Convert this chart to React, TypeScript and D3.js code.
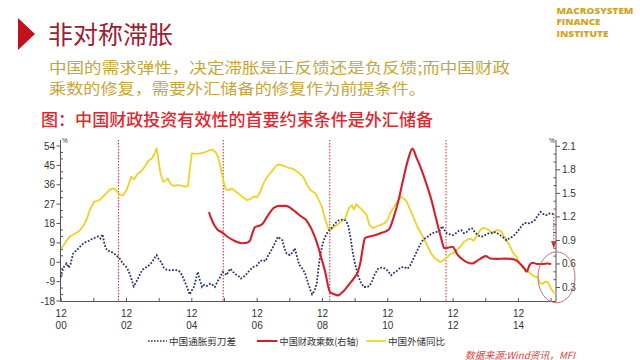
import React from 'react';
import * as d3 from 'd3';

// ---- data (decimal years) ----
const reserveT = [2000.92,2001.0,2001.08,2001.17,2001.3,2001.42,2001.5,2001.6,2001.7,2001.8,2001.92,2002.02,2002.1,2002.2,2002.3,2002.42,2002.54,2002.62,2002.7,2002.8,2002.92,2003.0,2003.06,2003.15,2003.25,2003.35,2003.48,2003.58,2003.7,2003.78,2003.84,2003.9,2003.96,2004.04,2004.12,2004.18,2004.26,2004.35,2004.48,2004.6,2004.72,2004.8,2004.87,2004.92,2005.04,2005.17,2005.3,2005.42,2005.55,2005.65,2005.72,2005.8,2005.88,2005.95,2006.05,2006.15,2006.25,2006.38,2006.5,2006.62,2006.72,2006.82,2006.92,2007.02,2007.12,2007.22,2007.35,2007.48,2007.58,2007.7,2007.85,2008.0,2008.1,2008.2,2008.33,2008.45,2008.55,2008.7,2008.8,2008.9,2009.0,2009.1,2009.15,2009.28,2009.38,2009.5,2009.62,2009.72,2009.82,2009.88,2009.95,2010.05,2010.15,2010.27,2010.35,2010.45,2010.55,2010.68,2010.8,2010.9,2011.0,2011.1,2011.2,2011.32,2011.42,2011.5,2011.6,2011.7,2011.82,2011.95,2012.05,2012.15,2012.25,2012.35,2012.48,2012.56,2012.66,2012.75,2012.85,2012.95,2013.05,2013.15,2013.25,2013.35,2013.45,2013.55,2013.65,2013.75,2013.85,2013.95,2014.05,2014.15,2014.25,2014.38,2014.5,2014.62,2014.75,2014.86,2014.95,2015.05,2015.17,2015.3,2015.42,2015.5,2015.58,2015.65,2015.75,2015.83,2015.92,2016.0,2016.06];
const reserveYoY = [6.4,8.0,10,11.8,13,14,15,17,20,24.5,28,28.5,29,30.5,32,34,34.3,33,31.5,31,33.5,37,39.7,38.5,41,42,44.4,47,48.3,50.5,53,47,41,37.4,38,39,36.5,35.5,35.8,35.6,35,35.5,45,50.6,50.3,50.6,51,51.8,52.3,51,49,44,38,34,33.5,34.3,33,31.5,30,28.8,29.5,30.5,30.3,33,37,39.5,42,44.5,45.5,45,44,43.5,42.5,41.5,39.5,36,33.5,32,29,25.8,20,15.5,15,16.5,17.5,19,20.5,25,26.5,24.5,27,25.5,24,22,17.5,15.8,16.5,17.3,18,19.5,23,25.5,28,30.4,29.5,28,24.5,21,16.5,13,10,7,4,2,0.5,0.2,1.5,2.5,4,4.5,6,7.5,9.5,10.5,11,10,12.5,15,16,15.5,14.5,13.5,15,14.5,11.5,8.5,4.5,2.5,-0.6,-2.5,-3.6,-5.5,-6.7,-6.8,-9.7,-10,-9,-9.5,-12.5,-14,-14.8];

const scissorsT = [2000.9,2000.97,2001.03,2001.08,2001.15,2001.2,2001.28,2001.38,2001.48,2001.58,2001.68,2001.78,2001.88,2001.98,2002.05,2002.12,2002.18,2002.25,2002.32,2002.42,2002.52,2002.62,2002.72,2002.8,2002.9,2002.98,2003.05,2003.14,2003.22,2003.3,2003.4,2003.5,2003.6,2003.7,2003.8,2003.84,2003.9,2003.98,2004.06,2004.15,2004.28,2004.4,2004.52,2004.62,2004.7,2004.78,2004.85,2004.92,2004.98,2005.05,2005.1,2005.16,2005.23,2005.3,2005.38,2005.48,2005.55,2005.62,2005.7,2005.78,2005.86,2005.92,2005.98,2006.05,2006.1,2006.18,2006.25,2006.35,2006.42,2006.52,2006.6,2006.7,2006.8,2006.92,2007.0,2007.1,2007.17,2007.25,2007.35,2007.45,2007.55,2007.62,2007.69,2007.75,2007.82,2007.92,2008.0,2008.07,2008.13,2008.2,2008.3,2008.38,2008.48,2008.55,2008.6,2008.68,2008.74,2008.8,2008.87,2008.95,2009.02,2009.1,2009.2,2009.3,2009.42,2009.52,2009.62,2009.7,2009.78,2009.85,2009.92,2010.0,2010.08,2010.18,2010.28,2010.36,2010.44,2010.52,2010.62,2010.72,2010.82,2010.92,2011.02,2011.1,2011.2,2011.3,2011.42,2011.52,2011.6,2011.68,2011.76,2011.85,2011.95,2012.05,2012.15,2012.25,2012.38,2012.5,2012.58,2012.65,2012.73,2012.82,2012.92,2013.0,2013.08,2013.17,2013.25,2013.33,2013.42,2013.5,2013.58,2013.68,2013.78,2013.88,2013.98,2014.08,2014.17,2014.27,2014.35,2014.45,2014.55,2014.63,2014.73,2014.82,2014.92,2015.02,2015.1,2015.2,2015.3,2015.42,2015.5,2015.6,2015.67,2015.73,2015.8,2015.87,2015.95,2016.0];
const scissorsGap = [-7,-3,-1.5,-0.5,-2.5,-1,4,5.5,7,8.5,9.5,10,11,11.5,12,11,13,8,5.5,5,4.3,3,1.5,-0.5,-2,-4,-7,-11.2,-9,-6.5,-3.5,-2.5,-1.5,0,2.5,3.3,1.5,0,-2.5,-3.5,-3.8,-3.5,-4,-6,-9,-12,-15,-13,-11.5,-7.5,-4.5,-8,-11.5,-10.5,-11,-9.9,-10.5,-11.5,-9,-7,-4.5,-5,-6,-4,-3,-4.5,-5.5,-6.5,-7.6,-6.5,-5.3,-3.5,-2.2,-1.4,0.5,1,0.5,3,5.5,8.5,11.8,11,10.2,6.5,4,3.3,4.5,6.4,3,-1,-3,-5,-9.9,-13,-14.9,-13,-10,-2,5,10,12.5,14.5,16,18,19.5,19.8,19.5,17.5,11,4,-1,-6,-9,-11.5,-11.5,-11,-8.5,-5.5,-3,-2.5,-2.8,-4,-6,-5,-4,-2.5,-2.2,-3,-1.5,1,3.5,6.5,9.5,11,12,13.3,14,14.5,16.8,15,13.3,13,12.6,13.5,14.5,14.9,13.5,14,15.5,15.7,14,12.5,11.8,12.5,13.3,13.5,14.1,13.5,12.6,11.5,10.2,11,11.8,13,14.9,17,18.3,18,18.3,19.6,21.5,23.4,22.5,21.9,22,22.7,22.5,22.5];

const multiplierT = [2005.44,2005.52,2005.6,2005.7,2005.85,2006.0,2006.15,2006.3,2006.45,2006.6,2006.7,2006.78,2006.85,2007.0,2007.1,2007.22,2007.35,2007.45,2007.6,2007.8,2007.95,2008.1,2008.25,2008.42,2008.55,2008.68,2008.8,2008.9,2009.0,2009.1,2009.15,2009.25,2009.4,2009.5,2009.6,2009.75,2009.9,2010.0,2010.08,2010.15,2010.22,2010.35,2010.55,2010.75,2010.95,2011.1,2011.25,2011.4,2011.55,2011.67,2011.8,2011.95,2012.1,2012.25,2012.4,2012.55,2012.65,2012.78,2012.9,2013.05,2013.2,2013.35,2013.5,2013.65,2013.8,2013.92,2014.05,2014.25,2014.5,2014.7,2014.85,2015.0,2015.1,2015.17,2015.25,2015.35,2015.5,2015.65,2015.8,2015.92];
const multiplier = [1.26,1.17,1.1,1.04,1.0,0.95,0.91,0.88,0.865,0.87,0.9,1.0,1.07,1.09,1.12,1.2,1.28,1.32,1.34,1.34,1.31,1.26,1.21,1.16,1.07,0.95,0.8,0.65,0.5,0.3,0.24,0.22,0.2,0.23,0.27,0.35,0.43,0.5,0.62,0.8,0.93,0.95,0.97,1.0,1.04,1.2,1.42,1.7,1.95,2.07,1.95,1.8,1.62,1.42,1.17,0.93,0.8,0.81,0.82,0.72,0.66,0.62,0.605,0.64,0.68,0.7,0.67,0.665,0.668,0.665,0.645,0.59,0.54,0.5,0.58,0.615,0.6,0.6,0.605,0.6];

const markerDates = [2002.67, 2005.88, 2009.14, 2012.70];
const leftTicks = [54, 45, 36, 27, 18, 9, 0, -9, -18];
const rightTicks = [2.1, 1.8, 1.5, 1.2, 0.9, 0.6, 0.3];
const xLabelYears = ['00', '02', '04', '06', '08', '10', '12', '14'];
const xLabelMonth = '12';
const seriesNames = ['中国通胀剪刀差', '中国财政乘数(右轴)', '中国外储同比'];

const CJK = '"Noto Sans CJK SC", "Noto Sans", sans-serif';
const NUM = '"Liberation Sans", Arial, sans-serif';

const BLUE = '#2a3468';
const RED = '#d3202b';
const YELLOW = '#f0d225';

export default function App() {
  const x = d3.scaleLinear().domain([2000.896, 2016.067]).range([60.5, 556]);
  const yL = d3.scaleLinear().domain([-18, 54]).range([301, 146]);
  const yR = d3.scaleLinear().domain([0.3, 2.1]).range([287.5, 146.3]);

  const zip = (t: number[], v: number[]) => t.map((d, i) => [d, v[i]] as [number, number]);
  const lineL = d3.line<[number, number]>().x(d => x(d[0])).y(d => yL(d[1]));
  const lineR = d3.line<[number, number]>().x(d => x(d[0])).y(d => yR(d[1])).curve(d3.curveMonotoneX);

  const bottom = 301.5;
  const top = 140;
  const leftX = 60.5;
  const rightX = 556;

  const yearTicks = d3.range(0, 16).map(i => 2000.917 + i);
  const leftMinor = d3.range(-18, 54.01, 3).filter(v => v % 9 !== 0);
  const rightMinor = d3.range(0.3, 2.101, 0.1).filter(v => Math.abs(Math.round(v * 10) % 3) !== 0);

  const arrowX = x(scissorsT[scissorsT.length - 1]);
  const arrowTopY = yL(scissorsGap[scissorsGap.length - 1]);
  const arrowTipY = yR(0.8);

  return (
    <div style={{ position: 'absolute', left: 0, top: 0 }}>
      <svg width={640} height={360} viewBox="0 0 640 360" style={{ display: 'block', background: '#fff' }}>
        <rect width={640} height={360} fill="#fff" />
        {/* header */}
        <polygon points="18,18 35,34 18,50" fill="#c3121c" />
        <text x={48} y={44} fontFamily={CJK} fontSize={25} fill="#9f1c33" textLength={125} lengthAdjust="spacingAndGlyphs">非对称滞胀</text>
        <text x={49} y={73} fontFamily={CJK} fontSize={14.5} fill="#c6a636" textLength={461} lengthAdjust="spacingAndGlyphs">中国的需求弹性，决定滞胀是正反馈还是负反馈;而中国财政</text>
        <text x={49} y={94} fontFamily={CJK} fontSize={14.5} fill="#c6a636" textLength={377} lengthAdjust="spacingAndGlyphs">乘数的修复，需要外汇储备的修复作为前提条件。</text>
        <g fontFamily='"Open Sans", "DejaVu Sans", sans-serif' fontWeight={800} fontSize={9.3} fill="#d3a51c">
          <text x={556.5} y={13.8} textLength={77} lengthAdjust="spacingAndGlyphs">MACROSYSTEM</text>
          <text x={556.5} y={25.4} textLength={44} lengthAdjust="spacingAndGlyphs">FINANCE</text>
          <text x={556.5} y={37} textLength={52} lengthAdjust="spacingAndGlyphs">INSTITUTE</text>
        </g>
        <text x={41} y={126} fontFamily={CJK} fontSize={16.5} fontWeight={500} fill="#e3262d" textLength={392} lengthAdjust="spacingAndGlyphs">图：中国财政投资有效性的首要约束条件是外汇储备</text>

        {/* event markers */}
        {markerDates.map((d, i) => (
          <line key={'m' + i} x1={x(d)} x2={x(d)} y1={140} y2={bottom} stroke="#e0343a" strokeWidth={1.1} strokeDasharray="1.5,1.5" />
        ))}

        {/* axes */}
        <g stroke="#555" strokeWidth={1} fill="none">
          <line x1={leftX} x2={leftX} y1={top} y2={bottom} />
          <line x1={rightX} x2={rightX} y1={top} y2={bottom} />
          <line x1={leftX} x2={rightX} y1={bottom} y2={bottom} />
          {leftTicks.map(v => <line key={'lt' + v} x1={leftX - 4} x2={leftX} y1={yL(v)} y2={yL(v)} />)}
          {leftMinor.map(v => <line key={'lm' + v} x1={leftX} x2={leftX + 2.5} y1={yL(v)} y2={yL(v)} />)}
          {rightTicks.map(v => <line key={'rt' + v} x1={rightX} x2={rightX + 4} y1={yR(v)} y2={yR(v)} />)}
          {rightMinor.map(v => <line key={'rm' + v} x1={rightX - 2.5} x2={rightX} y1={yR(v)} y2={yR(v)} />)}
          {yearTicks.map(t => <line key={'xt' + t} x1={x(t)} x2={x(t)} y1={bottom} y2={bottom - 3.5} />)}
        </g>
        <g fontFamily={NUM} fontSize={10} fill="#333">
          {leftTicks.map(v => <text key={'ll' + v} x={55} y={yL(v) + 3.5} textAnchor="end">{v}</text>)}
          {rightTicks.map(v => <text key={'rl' + v} x={562} y={yR(v) + 3.5}>{v.toFixed(1)}</text>)}
          {xLabelYears.map((yy, i) => (
            <g key={'xl' + yy}>
              <text x={x(2000.917 + 2 * i)} y={317} textAnchor="middle">{xLabelMonth}</text>
              <text x={x(2000.917 + 2 * i)} y={328.5} textAnchor="middle">{yy}</text>
            </g>
          ))}
          <text x={62} y={143} fontSize={6.5}>%</text>
          <text x={549} y={143} fontSize={6.5}>%</text>
        </g>

        {/* series */}
        <path d={lineL(zip(reserveT, reserveYoY)) || ''} fill="none" stroke={YELLOW} strokeWidth={1.8} strokeLinejoin="round" />
        <path d={lineL(zip(scissorsT, scissorsGap)) || ''} fill="none" stroke={BLUE} strokeWidth={1.8} strokeDasharray="1.8,1.6" />
        <path d={lineR(zip(multiplierT, multiplier)) || ''} fill="none" stroke={RED} strokeWidth={2.1} strokeLinejoin="round" />

        {/* annotation */}
        <line x1={arrowX} x2={arrowX} y1={arrowTopY} y2={arrowTipY - 6} stroke="#d42a2a" strokeWidth={1.1} strokeDasharray="1.5,1.5" />
        <polygon points={`${arrowX - 2.8},${arrowTipY - 7} ${arrowX + 2.8},${arrowTipY - 7} ${arrowX},${arrowTipY}`} fill="#d42a2a" />
        <ellipse cx={rightX + 0.5} cy={yR(0.43)} rx={18.5} ry={25.5} fill="none" stroke="#c9706e" strokeWidth={1} />

        {/* legend */}
        <g fontFamily={CJK} fontSize={9.5} fill="#333">
          <line x1={148} x2={167} y1={341} y2={341} stroke={BLUE} strokeWidth={1.6} strokeDasharray="1.6,1.4" />
          <text x={169} y={344.5} textLength={67} lengthAdjust="spacingAndGlyphs">{seriesNames[0]}</text>
          <line x1={257} x2={277.5} y1={341} y2={341} stroke={RED} strokeWidth={2} />
          <text x={279.6} y={344.5} textLength={79} lengthAdjust="spacingAndGlyphs">{seriesNames[1]}</text>
          <line x1={366.5} x2={386} y1={341} y2={341} stroke={YELLOW} strokeWidth={1.8} />
          <text x={388} y={344.5} textLength={57} lengthAdjust="spacingAndGlyphs">{seriesNames[2]}</text>
        </g>
        <text x={465} y={358.5} fontFamily={CJK} fontSize={10} fontStyle="italic" fill="#e8403a" textLength={110} lengthAdjust="spacingAndGlyphs">数据来源:Wind资讯，MFI</text>
      </svg>
    </div>
  );
}
